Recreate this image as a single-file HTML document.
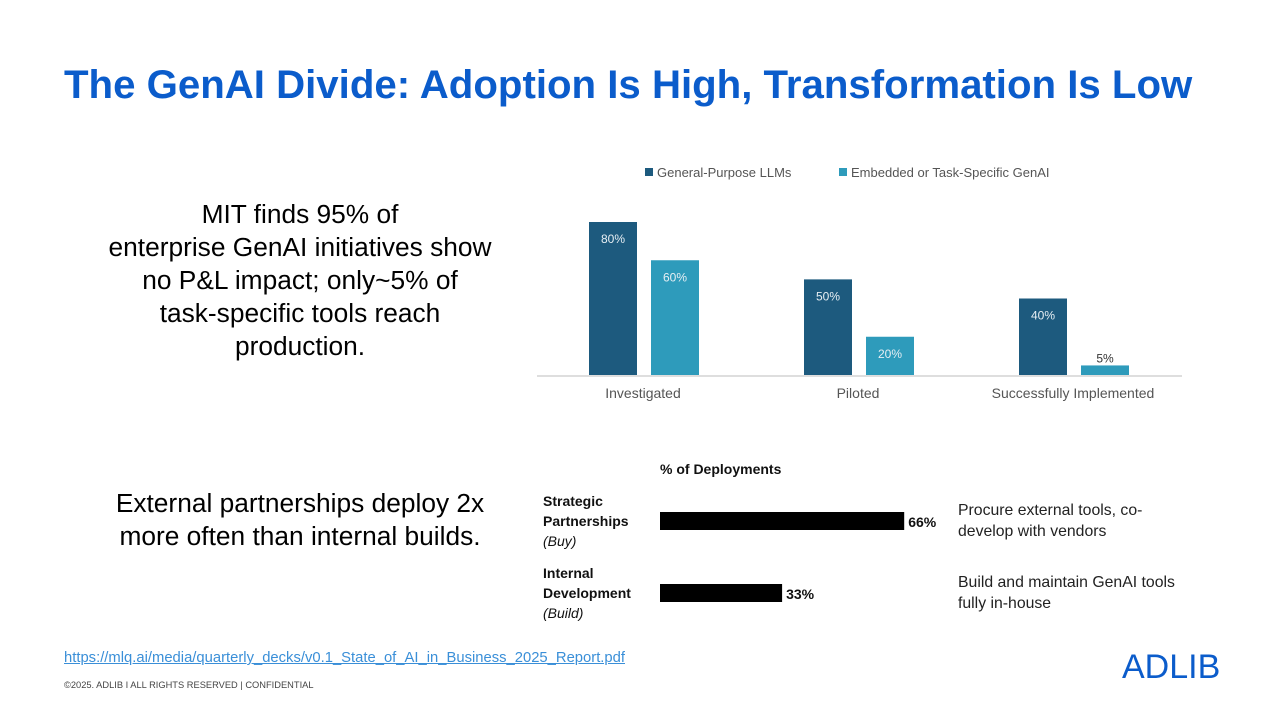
<!DOCTYPE html>
<html><head><meta charset="utf-8"><style>
body{margin:0;width:1280px;height:720px;background:#fff;position:relative;overflow:hidden;font-family:"Liberation Sans",sans-serif}
.abs{position:absolute}
</style></head><body>
<div class="abs" style="left:64px;top:62px;font-size:40.2px;font-weight:bold;color:#0b5ccb;white-space:nowrap">The GenAI Divide: Adoption Is High, Transformation Is Low</div>
<div class="abs" style="left:50px;top:198px;width:500px;text-align:center;font-size:26.3px;line-height:33px;color:#000">MIT finds 95% of<br>enterprise GenAI initiatives show<br>no P&amp;L impact; only~5% of<br>task-specific tools reach<br>production.</div>
<div class="abs" style="left:50px;top:487px;width:500px;text-align:center;font-size:26.3px;line-height:33px;color:#000">External partnerships deploy 2x<br>more often than internal builds.</div>
<a class="abs" style="left:64px;top:650px;font-size:14.8px;color:#3a8fd8;text-decoration:underline;white-space:nowrap">https://mlq.ai/media/quarterly_decks/v0.1_State_of_AI_in_Business_2025_Report.pdf</a>
<div class="abs" style="left:64px;top:680px;font-size:9.3px;color:#444;white-space:nowrap">©2025. ADLIB I ALL RIGHTS RESERVED | CONFIDENTIAL</div>
<div class="abs" style="left:1122px;top:648px;font-size:34px;color:#0b5ccb">ADLIB</div>
<svg id="c1" class="abs" style="left:0;top:0" width="1280" height="720"></svg>
<script>
const categories=["Investigated","Piloted","Successfully Implemented"];
const seriesNames=["General-Purpose LLMs","Embedded or Task-Specific GenAI"];
const llmValues=[80,50,40];
const embeddedValues=[60,20,5];
const valueLabels=[["80%","50%","40%"],["60%","20%","5%"]];
const deployCats=[["Strategic","Partnerships","(Buy)"],["Internal","Development","(Build)"]];
const deployValues=[66,33];
const deployLabels=["66%","33%"];
const deployDesc=[["Procure external tools, co-","develop with vendors"],["Build and maintain GenAI tools","fully in-house"]];
const NS="http://www.w3.org/2000/svg";
const svg=document.getElementById('c1');
function mk(t,a,txt){const e=document.createElementNS(NS,t);for(const k in a)e.setAttribute(k,a[k]);if(txt!=null)e.textContent=txt;svg.appendChild(e);return e;}
const base=375,yS=v=>base-v*1.9125,cx=i=>643+i*215;
const colors=["#1d5a7e","#2e9bbb"];
const ax=mk('line',{x1:537,x2:1182,y1:base+1,y2:base+1,stroke:'#d4d4d4','stroke-width':1.5});

[llmValues,embeddedValues].forEach((vals,s)=>{
 vals.forEach((v,i)=>{
  const x=cx(i)-54+s*62;
  const r=mk('rect',{x:x,y:yS(v),width:48,height:base-yS(v),fill:colors[s]});
  
  
  const inside=base-yS(v)>25;
  const t=mk('text',{x:x+24,y:inside?yS(v)+21:yS(v)-3,'text-anchor':'middle','font-size':12,fill:inside?'#e6eef3':'#333'},valueLabels[s][i]);
  
 });
});
categories.forEach((c,i)=>{const t=mk('text',{x:cx(i),y:398,'text-anchor':'middle','font-size':14,fill:'#555'},c);
 });
[[645,seriesNames[0]],[839,seriesNames[1]]].forEach(([x,n],s)=>{
 const r=mk('rect',{x:x,y:168,width:8,height:8,fill:colors[s]});
 const t=mk('text',{x:x+12,y:177,'font-size':13,fill:'#555'},n);
});
const h=mk('text',{x:660,y:474,'font-size':14,'font-weight':'bold',fill:'#111'},'% of Deployments');

const xS=v=>v*3.7;
deployValues.forEach((v,i)=>{
 const y=512+i*72;
 const r=mk('rect',{x:660,y:y,width:xS(v),height:18,fill:'#000'});
 
 const l=mk('text',{x:664+xS(v),y:y+15,'font-size':14,'font-weight':'bold',fill:'#111'},deployLabels[i]);
 
 deployCats[i].forEach((w,j)=>{const t=mk('text',{x:543,y:y-6+j*20,'font-size':14,'font-weight':j<2?'bold':'normal','font-style':j==2?'italic':'normal',fill:'#111'},w);
  });
 deployDesc[i].forEach((w,j)=>{const t=mk('text',{x:958,y:y+3+j*21,'font-size':15.8,fill:'#222'},w);
  });
});
</script>
</body></html>
